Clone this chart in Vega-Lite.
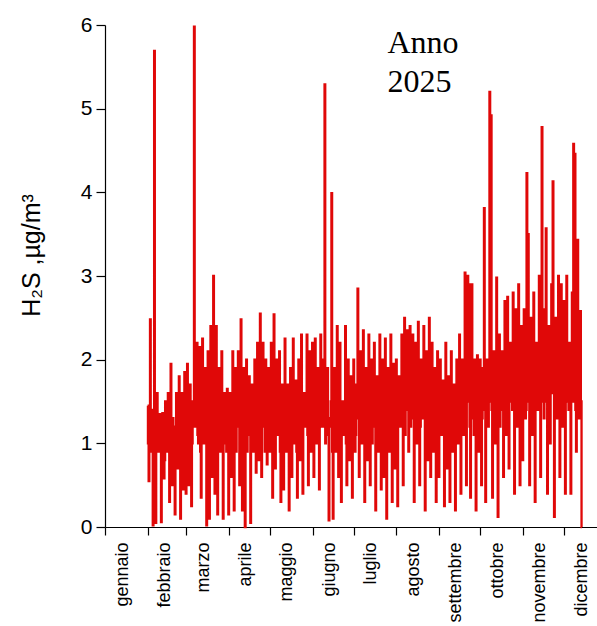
{
  "$schema": "https://vega.github.io/schema/vega-lite/v6.json",
  "autosize": "none",
  "padding": {"left": 105, "top": 25, "right": 0, "bottom": 99},
  "width": 492,
  "height": 502,
  "background": "white",
  "config": {"view": {"stroke": null}},
  "data": {"values": [
{"d":31,"v":1.45},{"d":32,"v":0.55},{"d":33,"v":2.48},{"d":34,"v":1.3},{"d":35,"v":0.02},{"d":36,"v":5.69},{"d":37,"v":0.05},{"d":38,"v":1.6},{"d":39,"v":0.9},{"d":40,"v":1.35},{"d":41,"v":0.06},{"d":42,"v":1.36},{"d":43,"v":0.58},{"d":44,"v":1.5},{"d":45,"v":0.9},{"d":46,"v":1.6},{"d":47,"v":0.3},{"d":48,"v":1.95},{"d":49,"v":0.5},{"d":50,"v":1.2},{"d":51,"v":0.15},{"d":52,"v":1.6},{"d":53,"v":0.7},{"d":54,"v":1.8},{"d":55,"v":0.1},{"d":56,"v":1.6},{"d":57,"v":0.45},{"d":58,"v":1.85},
{"d":59,"v":0.4},{"d":60,"v":1.95},{"d":61,"v":0.5},{"d":62,"v":1.7},{"d":63,"v":0.25},{"d":64,"v":1.5},{"d":65,"v":5.98},{"d":66,"v":1.3},{"d":67,"v":2.2},{"d":68,"v":1.0},{"d":69,"v":2.15},{"d":70,"v":0.35},{"d":71,"v":2.25},{"d":72,"v":1.0},{"d":73,"v":1.9},{"d":74,"v":0.02},{"d":75,"v":2.1},{"d":76,"v":0.1},{"d":77,"v":2.4},{"d":78,"v":0.6},{"d":79,"v":3.0},{"d":80,"v":0.4},{"d":81,"v":2.4},{"d":82,"v":0.15},{"d":83,"v":1.9},{"d":84,"v":0.9},{"d":85,"v":2.1},{"d":86,"v":0.1},{"d":87,"v":1.6},{"d":88,"v":1.0},{"d":89,"v":1.65},
{"d":90,"v":0.15},{"d":91,"v":1.6},{"d":92,"v":0.6},{"d":93,"v":2.1},{"d":94,"v":0.2},{"d":95,"v":1.9},{"d":96,"v":1.2},{"d":97,"v":2.1},{"d":98,"v":0.5},{"d":99,"v":2.48},{"d":100,"v":0.2},{"d":101,"v":1.9},{"d":102,"v":0.0},{"d":103,"v":2.0},{"d":104,"v":1.1},{"d":105,"v":1.8},{"d":106,"v":0.05},{"d":107,"v":1.7},{"d":108,"v":0.9},{"d":109,"v":2.0},{"d":110,"v":0.65},{"d":111,"v":2.2},{"d":112,"v":0.8},{"d":113,"v":2.55},{"d":114,"v":0.6},{"d":115,"v":2.2},{"d":116,"v":1.4},{"d":117,"v":2.0},{"d":118,"v":0.75},{"d":119,"v":1.9},
{"d":120,"v":0.9},{"d":121,"v":2.2},{"d":122,"v":0.35},{"d":123,"v":2.54},{"d":124,"v":0.7},{"d":125,"v":2.0},{"d":126,"v":1.1},{"d":127,"v":2.1},{"d":128,"v":0.3},{"d":129,"v":1.7},{"d":130,"v":0.45},{"d":131,"v":2.25},{"d":132,"v":0.9},{"d":133,"v":1.7},{"d":134,"v":0.2},{"d":135,"v":1.9},{"d":136,"v":0.6},{"d":137,"v":2.25},{"d":138,"v":1.0},{"d":139,"v":1.75},{"d":140,"v":0.35},{"d":141,"v":2.0},{"d":142,"v":0.8},{"d":143,"v":2.3},{"d":144,"v":0.4},{"d":145,"v":1.6},{"d":146,"v":1.2},{"d":147,"v":2.3},{"d":148,"v":0.5},{"d":149,"v":2.1},{"d":150,"v":0.9},
{"d":151,"v":2.2},{"d":152,"v":0.6},{"d":153,"v":2.25},{"d":154,"v":1.0},{"d":155,"v":1.9},{"d":156,"v":0.45},{"d":157,"v":2.3},{"d":158,"v":1.2},{"d":159,"v":2.0},{"d":160,"v":5.29},{"d":161,"v":1.3},{"d":162,"v":1.9},{"d":163,"v":0.08},{"d":164,"v":1.2},{"d":165,"v":3.99},{"d":166,"v":0.1},{"d":167,"v":1.9},{"d":168,"v":0.9},{"d":169,"v":2.4},{"d":170,"v":0.6},{"d":171,"v":2.2},{"d":172,"v":0.3},{"d":173,"v":1.5},{"d":174,"v":1.1},{"d":175,"v":2.4},{"d":176,"v":0.5},{"d":177,"v":2.0},{"d":178,"v":0.8},{"d":179,"v":1.8},{"d":180,"v":0.35},
{"d":181,"v":2.0},{"d":182,"v":0.9},{"d":183,"v":1.7},{"d":184,"v":2.85},{"d":185,"v":0.6},{"d":186,"v":2.1},{"d":187,"v":1.0},{"d":188,"v":2.35},{"d":189,"v":0.3},{"d":190,"v":1.9},{"d":191,"v":0.8},{"d":192,"v":2.3},{"d":193,"v":0.5},{"d":194,"v":2.0},{"d":195,"v":1.2},{"d":196,"v":2.2},{"d":197,"v":0.2},{"d":198,"v":1.8},{"d":199,"v":0.9},{"d":200,"v":2.3},{"d":201,"v":0.45},{"d":202,"v":2.0},{"d":203,"v":0.6},{"d":204,"v":2.25},{"d":205,"v":0.1},{"d":206,"v":1.9},{"d":207,"v":0.9},{"d":208,"v":2.3},{"d":209,"v":0.3},{"d":210,"v":1.95},{"d":211,"v":0.7},
{"d":212,"v":2.0},{"d":213,"v":0.25},{"d":214,"v":1.8},{"d":215,"v":1.2},{"d":216,"v":2.3},{"d":217,"v":0.5},{"d":218,"v":2.5},{"d":219,"v":1.4},{"d":220,"v":2.35},{"d":221,"v":0.9},{"d":222,"v":2.4},{"d":223,"v":1.6},{"d":224,"v":2.3},{"d":225,"v":0.3},{"d":226,"v":2.2},{"d":227,"v":1.0},{"d":228,"v":2.45},{"d":229,"v":0.5},{"d":230,"v":2.0},{"d":231,"v":1.3},{"d":232,"v":2.4},{"d":233,"v":0.2},{"d":234,"v":2.1},{"d":235,"v":0.8},{"d":236,"v":2.5},{"d":237,"v":0.6},{"d":238,"v":2.2},{"d":239,"v":0.9},{"d":240,"v":1.9},{"d":241,"v":0.3},{"d":242,"v":2.1},
{"d":243,"v":0.6},{"d":244,"v":2.0},{"d":245,"v":1.1},{"d":246,"v":1.75},{"d":247,"v":0.25},{"d":248,"v":2.2},{"d":249,"v":0.7},{"d":250,"v":1.8},{"d":251,"v":0.3},{"d":252,"v":2.1},{"d":253,"v":0.9},{"d":254,"v":1.7},{"d":255,"v":0.2},{"d":256,"v":2.0},{"d":257,"v":1.0},{"d":258,"v":2.3},{"d":259,"v":0.4},{"d":260,"v":2.0},{"d":261,"v":1.1},{"d":262,"v":3.04},{"d":263,"v":0.5},{"d":264,"v":3.0},{"d":265,"v":2.9},{"d":266,"v":0.35},{"d":267,"v":2.9},{"d":268,"v":1.3},{"d":269,"v":2.0},{"d":270,"v":0.2},{"d":271,"v":2.05},{"d":272,"v":0.9},
{"d":273,"v":2.0},{"d":274,"v":0.5},{"d":275,"v":1.9},{"d":276,"v":3.81},{"d":277,"v":0.3},{"d":278,"v":2.0},{"d":279,"v":1.2},{"d":280,"v":5.2},{"d":281,"v":4.92},{"d":282,"v":0.35},{"d":283,"v":2.1},{"d":284,"v":1.0},{"d":285,"v":2.98},{"d":286,"v":0.12},{"d":287,"v":2.3},{"d":288,"v":1.4},{"d":289,"v":2.1},{"d":290,"v":0.6},{"d":291,"v":2.7},{"d":292,"v":1.1},{"d":293,"v":2.75},{"d":294,"v":0.7},{"d":295,"v":2.2},{"d":296,"v":1.5},{"d":297,"v":2.8},{"d":298,"v":0.4},{"d":299,"v":2.6},{"d":300,"v":1.2},{"d":301,"v":2.9},{"d":302,"v":0.5},{"d":303,"v":2.4},
{"d":304,"v":0.8},{"d":305,"v":2.6},{"d":306,"v":1.3},{"d":307,"v":4.23},{"d":308,"v":3.5},{"d":309,"v":0.5},{"d":310,"v":2.5},{"d":311,"v":1.1},{"d":312,"v":2.8},{"d":313,"v":0.3},{"d":314,"v":2.2},{"d":315,"v":1.4},{"d":316,"v":3.0},{"d":317,"v":0.6},{"d":318,"v":4.78},{"d":319,"v":1.5},{"d":320,"v":2.6},{"d":321,"v":3.57},{"d":322,"v":0.4},{"d":323,"v":2.4},{"d":324,"v":1.0},{"d":325,"v":2.9},{"d":326,"v":4.13},{"d":327,"v":0.12},{"d":328,"v":2.5},{"d":329,"v":1.3},{"d":330,"v":3.0},{"d":331,"v":0.6},{"d":332,"v":2.9},{"d":333,"v":1.2},
{"d":334,"v":2.7},{"d":335,"v":0.4},{"d":336,"v":3.0},{"d":337,"v":1.6},{"d":338,"v":2.2},{"d":339,"v":0.4},{"d":340,"v":2.8},{"d":341,"v":4.58},{"d":342,"v":4.46},{"d":343,"v":0.9},{"d":344,"v":3.43},{"d":345,"v":1.3},{"d":346,"v":2.58},{"d":347,"v":0.0},
{"d":31.5,"v":1.0},{"d":32.5,"v":1.2},{"d":33.5,"v":0.9},{"d":34.5,"v":1.4},{"d":35.5,"v":1.1},{"d":36.5,"v":0.8},{"d":37.5,"v":1.3},{"d":38.5,"v":1.0},{"d":39.5,"v":1.2},{"d":40.5,"v":0.9},
{"d":41.5,"v":1.1},{"d":42.5,"v":1.3},{"d":43.5,"v":0.8},{"d":44.5,"v":1.2},{"d":45.5,"v":1.0},{"d":46.5,"v":1.4},{"d":47.5,"v":0.9},{"d":48.5,"v":1.1},{"d":49.5,"v":1.3},{"d":50.5,"v":0.8},
{"d":51.5,"v":1.2},{"d":52.5,"v":1.0},{"d":53.5,"v":1.4},{"d":54.5,"v":1.1},{"d":55.5,"v":0.9},{"d":56.5,"v":1.3},{"d":57.5,"v":1.0},{"d":58.5,"v":1.2},
{"d":59.5,"v":1.1},{"d":60.5,"v":1.4},{"d":61.5,"v":0.9},{"d":62.5,"v":1.3},{"d":63.5,"v":1.0},{"d":64.5,"v":1.5},{"d":65.5,"v":1.2},{"d":66.5,"v":1.6},{"d":67.5,"v":1.1},{"d":68.5,"v":1.4},
{"d":69.5,"v":0.9},{"d":70.5,"v":1.5},{"d":71.5,"v":1.2},{"d":72.5,"v":1.3},{"d":73.5,"v":1.0},{"d":74.5,"v":1.6},{"d":75.5,"v":1.1},{"d":76.5,"v":1.4},{"d":77.5,"v":1.3},{"d":78.5,"v":1.2},
{"d":79.5,"v":0.9},{"d":80.5,"v":1.5},{"d":81.5,"v":1.1},{"d":82.5,"v":1.3},{"d":83.5,"v":1.0},{"d":84.5,"v":1.4},{"d":85.5,"v":1.2},{"d":86.5,"v":1.1},{"d":87.5,"v":1.5},{"d":88.5,"v":0.9},{"d":89.5,"v":1.3},
{"d":90.5,"v":1.2},{"d":91.5,"v":1.0},{"d":92.5,"v":1.4},{"d":93.5,"v":1.1},{"d":94.5,"v":1.5},{"d":95.5,"v":0.9},{"d":96.5,"v":1.3},{"d":97.5,"v":1.2},{"d":98.5,"v":1.6},{"d":99.5,"v":1.0},
{"d":100.5,"v":1.4},{"d":101.5,"v":1.1},{"d":102.5,"v":1.3},{"d":103.5,"v":0.9},{"d":104.5,"v":1.5},{"d":105.5,"v":1.2},{"d":106.5,"v":1.0},{"d":107.5,"v":1.4},{"d":108.5,"v":1.3},{"d":109.5,"v":1.6},
{"d":110.5,"v":1.1},{"d":111.5,"v":1.5},{"d":112.5,"v":1.0},{"d":113.5,"v":1.4},{"d":114.5,"v":1.2},{"d":115.5,"v":1.3},{"d":116.5,"v":0.9},{"d":117.5,"v":1.5},{"d":118.5,"v":1.1},{"d":119.5,"v":1.4},
{"d":120.5,"v":1.3},{"d":121.5,"v":1.1},{"d":122.5,"v":1.5},{"d":123.5,"v":1.0},{"d":124.5,"v":1.6},{"d":125.5,"v":1.2},{"d":126.5,"v":1.4},{"d":127.5,"v":0.9},{"d":128.5,"v":1.5},{"d":129.5,"v":1.1},
{"d":130.5,"v":1.3},{"d":131.5,"v":1.2},{"d":132.5,"v":1.6},{"d":133.5,"v":1.0},{"d":134.5,"v":1.4},{"d":135.5,"v":1.1},{"d":136.5,"v":1.5},{"d":137.5,"v":1.3},{"d":138.5,"v":1.2},{"d":139.5,"v":0.9},
{"d":140.5,"v":1.6},{"d":141.5,"v":1.1},{"d":142.5,"v":1.4},{"d":143.5,"v":1.0},{"d":144.5,"v":1.5},{"d":145.5,"v":1.2},{"d":146.5,"v":1.3},{"d":147.5,"v":1.1},{"d":148.5,"v":1.6},{"d":149.5,"v":1.0},{"d":150.5,"v":1.4},
{"d":151.5,"v":1.2},{"d":152.5,"v":1.5},{"d":153.5,"v":1.0},{"d":154.5,"v":1.4},{"d":155.5,"v":1.1},{"d":156.5,"v":1.6},{"d":157.5,"v":1.3},{"d":158.5,"v":1.2},{"d":159.5,"v":1.5},{"d":160.5,"v":1.0},
{"d":161.5,"v":1.4},{"d":162.5,"v":1.1},{"d":163.5,"v":1.3},{"d":164.5,"v":1.5},{"d":165.5,"v":0.9},{"d":166.5,"v":1.4},{"d":167.5,"v":1.2},{"d":168.5,"v":1.6},{"d":169.5,"v":1.0},{"d":170.5,"v":1.3},
{"d":171.5,"v":1.1},{"d":172.5,"v":1.5},{"d":173.5,"v":1.2},{"d":174.5,"v":1.4},{"d":175.5,"v":1.0},{"d":176.5,"v":1.6},{"d":177.5,"v":1.3},{"d":178.5,"v":1.1},{"d":179.5,"v":1.5},{"d":180.5,"v":1.2},
{"d":181.5,"v":1.4},{"d":182.5,"v":1.1},{"d":183.5,"v":1.5},{"d":184.5,"v":1.3},{"d":185.5,"v":1.2},{"d":186.5,"v":1.6},{"d":187.5,"v":1.0},{"d":188.5,"v":1.4},{"d":189.5,"v":1.2},{"d":190.5,"v":1.5},
{"d":191.5,"v":1.1},{"d":192.5,"v":1.3},{"d":193.5,"v":1.6},{"d":194.5,"v":1.0},{"d":195.5,"v":1.4},{"d":196.5,"v":1.2},{"d":197.5,"v":1.5},{"d":198.5,"v":1.1},{"d":199.5,"v":1.3},{"d":200.5,"v":1.6},
{"d":201.5,"v":1.0},{"d":202.5,"v":1.4},{"d":203.5,"v":1.2},{"d":204.5,"v":1.5},{"d":205.5,"v":1.1},{"d":206.5,"v":1.3},{"d":207.5,"v":1.4},{"d":208.5,"v":1.0},{"d":209.5,"v":1.6},{"d":210.5,"v":1.2},{"d":211.5,"v":1.3},
{"d":212.5,"v":1.5},{"d":213.5,"v":1.2},{"d":214.5,"v":1.6},{"d":215.5,"v":1.4},{"d":216.5,"v":1.3},{"d":217.5,"v":1.7},{"d":218.5,"v":1.1},{"d":219.5,"v":1.5},{"d":220.5,"v":1.4},{"d":221.5,"v":1.6},
{"d":222.5,"v":1.2},{"d":223.5,"v":1.5},{"d":224.5,"v":1.3},{"d":225.5,"v":1.7},{"d":226.5,"v":1.1},{"d":227.5,"v":1.6},{"d":228.5,"v":1.4},{"d":229.5,"v":1.2},{"d":230.5,"v":1.5},{"d":231.5,"v":1.3},
{"d":232.5,"v":1.6},{"d":233.5,"v":1.1},{"d":234.5,"v":1.4},{"d":235.5,"v":1.5},{"d":236.5,"v":1.2},{"d":237.5,"v":1.7},{"d":238.5,"v":1.3},{"d":239.5,"v":1.4},{"d":240.5,"v":1.1},{"d":241.5,"v":1.5},{"d":242.5,"v":1.3},
{"d":243.5,"v":1.4},{"d":244.5,"v":1.2},{"d":245.5,"v":1.5},{"d":246.5,"v":1.1},{"d":247.5,"v":1.6},{"d":248.5,"v":1.3},{"d":249.5,"v":1.4},{"d":250.5,"v":1.0},{"d":251.5,"v":1.5},{"d":252.5,"v":1.2},
{"d":253.5,"v":1.6},{"d":254.5,"v":1.1},{"d":255.5,"v":1.4},{"d":256.5,"v":1.3},{"d":257.5,"v":1.5},{"d":258.5,"v":1.2},{"d":259.5,"v":1.7},{"d":260.5,"v":1.4},{"d":261.5,"v":1.6},{"d":262.5,"v":1.3},
{"d":263.5,"v":1.8},{"d":264.5,"v":1.5},{"d":265.5,"v":1.2},{"d":266.5,"v":1.6},{"d":267.5,"v":1.4},{"d":268.5,"v":1.1},{"d":269.5,"v":1.5},{"d":270.5,"v":1.3},{"d":271.5,"v":1.6},{"d":272.5,"v":1.2},
{"d":273.5,"v":1.5},{"d":274.5,"v":1.3},{"d":275.5,"v":1.7},{"d":276.5,"v":1.4},{"d":277.5,"v":1.6},{"d":278.5,"v":1.2},{"d":279.5,"v":1.8},{"d":280.5,"v":1.5},{"d":281.5,"v":1.4},{"d":282.5,"v":1.7},
{"d":283.5,"v":1.3},{"d":284.5,"v":1.6},{"d":285.5,"v":1.5},{"d":286.5,"v":1.8},{"d":287.5,"v":1.2},{"d":288.5,"v":1.7},{"d":289.5,"v":1.4},{"d":290.5,"v":1.6},{"d":291.5,"v":1.9},{"d":292.5,"v":1.3},
{"d":293.5,"v":1.7},{"d":294.5,"v":1.5},{"d":295.5,"v":1.8},{"d":296.5,"v":1.4},{"d":297.5,"v":1.6},{"d":298.5,"v":1.9},{"d":299.5,"v":1.3},{"d":300.5,"v":1.7},{"d":301.5,"v":1.5},{"d":302.5,"v":1.8},{"d":303.5,"v":1.4},
{"d":304.5,"v":1.6},{"d":305.5,"v":1.8},{"d":306.5,"v":1.4},{"d":307.5,"v":1.7},{"d":308.5,"v":1.5},{"d":309.5,"v":1.9},{"d":310.5,"v":1.3},{"d":311.5,"v":1.7},{"d":312.5,"v":1.6},{"d":313.5,"v":1.8},
{"d":314.5,"v":1.4},{"d":315.5,"v":1.9},{"d":316.5,"v":1.5},{"d":317.5,"v":1.7},{"d":318.5,"v":1.6},{"d":319.5,"v":1.3},{"d":320.5,"v":1.8},{"d":321.5,"v":1.5},{"d":322.5,"v":1.9},{"d":323.5,"v":1.4},
{"d":324.5,"v":1.7},{"d":325.5,"v":1.6},{"d":326.5,"v":1.8},{"d":327.5,"v":1.3},{"d":328.5,"v":1.7},{"d":329.5,"v":1.5},{"d":330.5,"v":1.9},{"d":331.5,"v":1.4},{"d":332.5,"v":1.8},{"d":333.5,"v":1.6},
{"d":334.5,"v":1.7},{"d":335.5,"v":1.5},{"d":336.5,"v":1.9},{"d":337.5,"v":1.4},{"d":338.5,"v":1.8},{"d":339.5,"v":1.6},{"d":340.5,"v":1.5},{"d":341.5,"v":1.7},{"d":342.5,"v":1.4},{"d":343.5,"v":1.9},{"d":344.5,"v":1.6},{"d":345.5,"v":1.8},{"d":346.5,"v":1.5}
  ]},
  "layer": [
    {
      "mark": {"type": "line", "color": "#e00808", "strokeWidth": 2.3, "interpolate": "step"},
      "encoding": {
        "x": {"field": "d", "type": "quantitative",
          "scale": {"domain": [0, 358], "nice": false, "zero": false},
          "axis": {
            "title": null,
            "values": [0,31,59,90,120,151,181,212,243,273,304,334],
            "labelExpr": "['gennaio','febbraio','marzo','aprile','maggio','giugno','luglio','agosto','settembre','ottobre','novembre','dicembre'][indexof([0,31,59,90,120,151,181,212,243,273,304,334], datum.value)]",
            "labelAngle": 270, "labelAlign": "right", "labelBaseline": "middle",
            "labelOffset": 17, "labelPadding": 7, "labelFontSize": 18,
            "labelFont": "Liberation Sans", "labelColor": "#000",
            "labelOverlap": false, "labelFlush": false, "labelBound": false,
            "domainColor": "#000", "domainWidth": 1.2, "tickColor": "#000", "tickSize": 8, "tickWidth": 1.2,
            "grid": false
          }
        },
        "y": {"field": "v", "type": "quantitative",
          "scale": {"domain": [0, 6], "nice": false},
          "axis": {
            "title": "H₂S ,µg/m³",
            "titleFont": "Liberation Sans", "titleFontSize": 25, "titleFontWeight": "normal", "titleColor": "#000",
            "titlePadding": 36, "titleY": 230,
            "values": [0,1,2,3,4,5,6], "format": "d",
            "labelFont": "Liberation Sans", "labelFontSize": 21, "labelColor": "#000", "labelPadding": 4,
            "labelFlush": false, "labelBound": false,
            "domainColor": "#000", "domainWidth": 1.2, "tickColor": "#000", "tickSize": 9, "tickWidth": 1.2,
            "grid": false
          }
        }
      }
    },
    {
      "data": {"values": [{}]},
      "mark": {"type": "text", "text": ["Anno", "2025"], "font": "Liberation Serif", "fontSize": 32,
        "align": "left", "baseline": "alphabetic", "lineHeight": 39, "color": "#000"},
      "encoding": {
        "x": {"datum": 205.5, "type": "quantitative"},
        "y": {"datum": 5.665, "type": "quantitative"}
      }
    }
  ]
}
